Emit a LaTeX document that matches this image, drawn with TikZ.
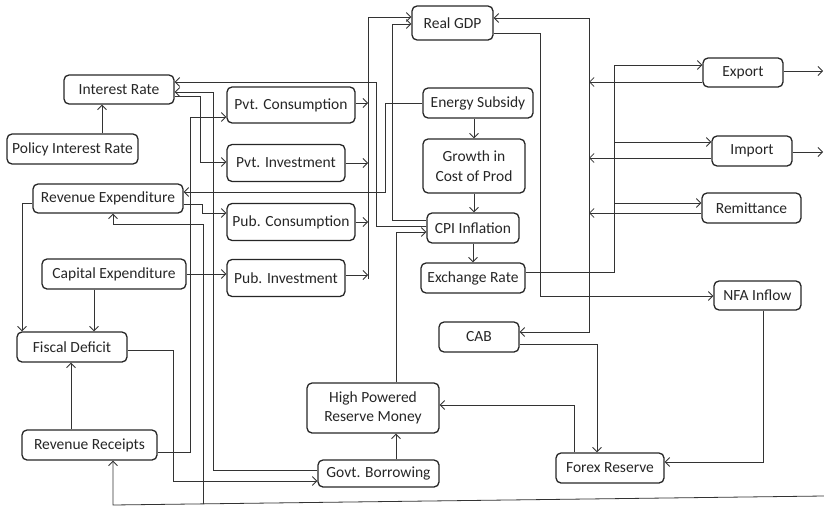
\documentclass[tikz,border=0pt]{standalone}
\usepackage{fontspec}
\setmainfont{Carlito}
\usetikzlibrary{arrows.meta}

\begin{document}
\begin{tikzpicture}[x=1pt, y=-1pt,
    box/.style={draw=black!85, line width=1.3pt, rounded corners=5pt, inner sep=0pt,
        align=center, text=black!85, font=\fontsize{15.5}{19.5}\selectfont},
    link/.style={draw=black!80, line width=0.8pt},
    >={Straight Barb[length=4.5pt, width=9pt]}]

\useasboundingbox (0,0) rectangle (824,506);

% Draw boxes
\node[box, minimum width=110, minimum height=29] (ir) at (119,89.5) {Interest Rate};
\node[box, minimum width=131, minimum height=30] (pir) at (72.5,149) {Policy Interest Rate};
\node[box, minimum width=150, minimum height=29] (rexp) at (108,198.5) {Revenue Expenditure};
\node[box, minimum width=144, minimum height=30] (cexp) at (114,274) {Capital Expenditure};
\node[box, minimum width=110, minimum height=30] (fd) at (72,347) {Fiscal Deficit};
\node[box, minimum width=135, minimum height=30] (rrec) at (89.5,445) {Revenue Receipts};
\node[box, minimum width=128, minimum height=36] (pvtc) at (291,105) {Pvt. Consumption};
\node[box, minimum width=118, minimum height=37] (pvti) at (286,163) {Pvt. Investment};
\node[box, minimum width=128, minimum height=37] (pubc) at (291,222) {Pub. Consumption};
\node[box, minimum width=118, minimum height=37] (pubi) at (286,278) {Pub. Investment};
\node[box, minimum width=81, minimum height=34] (gdp) at (452.5,23) {Real GDP};
\node[box, minimum width=110, minimum height=30] (esub) at (478,103) {Energy Subsidy};
\node[box, minimum width=102, minimum height=54] (gcp) at (474,166) {Growth in\\Cost of Prod};
\node[box, minimum width=92, minimum height=30] (cpi) at (473,228) {CPI Inflation};
\node[box, minimum width=104, minimum height=30] (er) at (473,278) {Exchange Rate};
\node[box, minimum width=80, minimum height=30] (cab) at (479,337) {CAB};
\node[box, minimum width=132, minimum height=50] (hprm) at (373,408) {High Powered\\Reserve Money};
\node[box, minimum width=121, minimum height=27] (gb) at (378.5,473.5) {Govt. Borrowing};
\node[box, minimum width=108, minimum height=30] (fx) at (610,468) {Forex Reserve};
\node[box, minimum width=87, minimum height=29] (nfa) at (757.5,295.5) {NFA Inflow};
\node[box, minimum width=80, minimum height=29] (exp) at (743,72.5) {Export};
\node[box, minimum width=80, minimum height=30] (imp) at (752,151) {Import};
\node[box, minimum width=99, minimum height=30] (rem) at (751.5,208) {Remittance};

% Free ends
\coordinate (expout) at (823,71);
\coordinate (impout) at (823,152);
\coordinate (busin) at (824,496);

% Monetary and fiscal links
\draw[link,->] (pir.north -| 102,0) -- (ir.south -| 102,0);
\draw[link,->] (ir.east |- 0,96) -| (200,162) -- (pvti.west |- 0,162);
\draw[link,->] (gb.west |- 0,470) -| (213,92) -- (ir.east |- 0,92);
\draw[link,->] (cpi.west |- 0,226) -| (376,82) -- (ir.east |- 0,82);
\draw[link,->] (cpi.west |- 0,220) -| (392,24) -- (gdp.west |- 0,24);
\draw[link,->] (esub.west) -| (385,192) -- (rexp.east |- 0,192);
\draw[link,->] (rexp.west |- 0,203) -| (fd.north -| 22,0);
\draw[link,->] (cexp.south -| 94,0) -- (fd.north -| 94,0);
\draw[link,->] (rrec.north -| 71,0) -- (fd.south -| 71,0);
\draw[link,->] (cexp.east |- 0,274) -- (pubi.west |- 0,274);
\draw[link,->] (rexp.east |- 0,204) -- (202,204) -- (202,213) -- (pubc.west |- 0,213);
\draw[link,->] (rrec.east |- 0,452) -| (190,117) -- (pvtc.west |- 0,117);
\draw[link,->] (fd.east |- 0,350) -| (173,481) -- (gb.west |- 0,481);
\draw[link,->] (busin) -- (113,505) -- (rrec.south -| 113,0);
\draw[link,->] (203,504) |- (113,224) -- (rexp.south -| 113,0);

% Demand components into Real GDP
\draw[link,->] (pvtc.east |- 0,103) -- (368,103);
\draw[link,->] (pvti.east |- 0,163) -- (368,163);
\draw[link,->] (pubc.east |- 0,222) -- (368,222);
\draw[link,->] (pubi.east |- 0,275) -- (368,275);
\draw[link,->] (368,279) -- (368,17) -- (gdp.west |- 0,17);

% Price chain
\draw[link,->] (gcp.north |- esub.south) -- (gcp.north);
\draw[link,->] (gcp.south) -- (gcp.south |- cpi.north);
\draw[link,->] (cpi.south) -- (er.north);
\draw[link,->] (gb.north -| 396,0) -- (hprm.south -| 396,0);
\draw[link,->] (hprm.north -| 396,0) |- (cpi.west |- 0,232);

% External sector
\draw[link] (er.east |- 0,272) -| (614,65);
\draw[link,->] (614,65) -- (exp.west |- 0,65);
\draw[link,->] (614,142) -- (imp.west |- 0,142);
\draw[link,->] (614,203) -- (rem.west |- 0,203);
\draw[link,->] (exp.west |- 0,82) -- (589,82);
\draw[link,->] (imp.west |- 0,158) -- (589,158);
\draw[link,->] (rem.west |- 0,213) -- (589,213);
\draw[link,<->] (gdp.east |- 0,18) -| (589,332) -- (cab.east |- 0,332);
\draw[link,->] (gdp.east |- 0,33) -| (540,296) -- (nfa.west |- 0,296);
\draw[link,->] (exp.east |- 0,71) -- (expout);
\draw[link,->] (imp.east |- 0,152) -- (impout);
\draw[link,->] (cab.east |- 0,344) -| (fx.north -| 597,0);
\draw[link,->] (nfa.south -| 763,0) |- (fx.east |- 0,462);
\draw[link,->] (fx.north -| 574,0) |- (hprm.east |- 0,405);

\end{tikzpicture}
\end{document}
